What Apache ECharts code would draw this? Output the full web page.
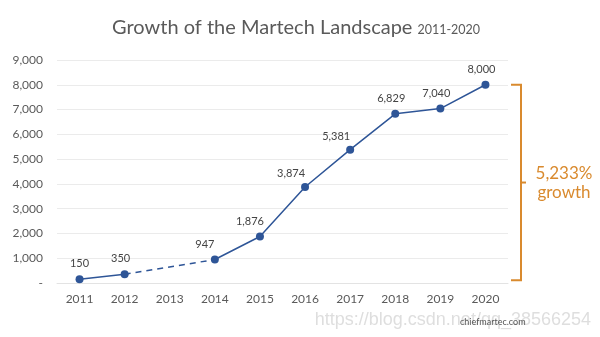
<!DOCTYPE html>
<html><head><meta charset="utf-8">
<script src="https://cdn.jsdelivr.net/npm/echarts@6/dist/echarts.min.js"></script>
<style>html,body{margin:0;padding:0;background:#fff}#c{width:600px;height:337px}</style>
</head><body><div id="c"></div>
<script>
const years = ['2011','2012','2013','2014','2015','2016','2017','2018','2019','2020'];
const landscape = [150, 350, null, 947, 1876, 3874, 5381, 6829, 7040, 8000];
const bridge = [null, 350, null, 947, null, null, null, null, null, null];
const yTicks = [0, 1000, 2000, 3000, 4000, 5000, 6000, 7000, 8000, 9000];
const growthText = ['5,233%', 'growth'];
const titleMain = 'Growth of the Martech Landscape';
const titleSub = '2011-2020';

const FONT = 'Lato, "Noto Sans", sans-serif';
const BLUE = '#2E5597';
const ORANGE = '#D98A2E';
const GREY = '#5a5a5a';
const fmt = v => v.toLocaleString('en-US');
const labelOffsets = {0:[0,0],1:[-4,0],3:[-10,0],4:[-10,0],5:[-14,2],6:[-14,2],7:[-4,0],8:[-4,0],9:[-4,0]};

const chart = echarts.init(document.getElementById('c'));
chart.setOption({
  animation: false,
  title: {
    text: '{a|' + titleMain + '} {b|' + titleSub + '}',
    left: 107, top: 13,
    textStyle: { fontWeight: 'normal', rich: {
      a: { fontFamily: FONT, fontSize: 20, fontWeight: 'normal', color: GREY },
      b: { fontFamily: FONT, fontSize: 12.5, fontWeight: 'normal', color: GREY, padding: [4,0,0,0] }
    }}
  },
  grid: { left: 57, right: 92, top: 60, bottom: 54 },
  xAxis: {
    type: 'category', data: years, boundaryGap: true,
    axisLine: { lineStyle: { color: '#e3e3e3' } },
    axisTick: { show: false },
    axisLabel: { color: GREY, fontFamily: FONT, fontSize: 12, margin: 10 }
  },
  yAxis: {
    type: 'value', min: 0, max: 9000, interval: 1000,
    axisLine: { show: false }, axisTick: { show: false },
    splitLine: { lineStyle: { color: '#ebebeb' } },
    axisLabel: { color: GREY, fontFamily: FONT, fontSize: 12, margin: 14,
      formatter: v => v === yTicks[0] ? '-' : fmt(v) }
  },
  series: [
    {
      type: 'line', data: bridge, connectNulls: true, symbol: 'none',
      lineStyle: { color: BLUE, width: 1.5, type: [6, 5] }, z: 1
    },
    {
      type: 'line', data: landscape.map((v, i) => v == null ? null : {
        value: v,
        label: { offset: labelOffsets[i] || [0,0] }
      }),
      connectNulls: false, symbol: 'circle', symbolSize: 8,
      itemStyle: { color: BLUE }, lineStyle: { color: BLUE, width: 1.5 },
      label: { show: true, position: 'top', distance: 6, color: '#444',
        fontFamily: FONT, fontSize: 11, formatter: p => fmt(p.value) },
      z: 2
    }
  ]
});

function drawBracket() {
  const top = chart.convertToPixel({ yAxisIndex: 0 }, landscape[9]);
  const bot = chart.convertToPixel({ yAxisIndex: 0 }, landscape[0]) + 1;
  const mid = (top + bot) / 2;
  const x0 = 511, x1 = 521, x2 = 526;
  chart.setOption({
    graphic: [
      { type: 'polyline', shape: { points: [[x0, top], [x1, top], [x1, bot], [x0, bot]] },
        style: { stroke: ORANGE, lineWidth: 2, fill: null } },
      { type: 'line', shape: { x1: x1, y1: mid, x2: x2, y2: mid },
        style: { stroke: ORANGE, lineWidth: 2 } },
      { type: 'text', x: 564, y: mid - 9, style: { text: growthText[0], fill: ORANGE,
        font: '17px ' + FONT, align: 'center', verticalAlign: 'middle' } },
      { type: 'text', x: 564, y: mid + 10, style: { text: growthText[1], fill: ORANGE,
        font: '17px ' + FONT, align: 'center', verticalAlign: 'middle' } },
      { type: 'text', x: 591, y: 320, style: { text: 'https://blog.csdn.net/qq_38566254', fill: 'rgba(190,190,190,0.5)',
        font: '18px "Liberation Sans", sans-serif', align: 'right', verticalAlign: 'middle' } },
      { type: 'text', x: 460, y: 322, style: { text: 'chiefmartec.com', fill: '#555',
        font: '9px ' + FONT, align: 'left', verticalAlign: 'middle' } }
    ]
  });
}
drawBracket();
</script></body></html>
